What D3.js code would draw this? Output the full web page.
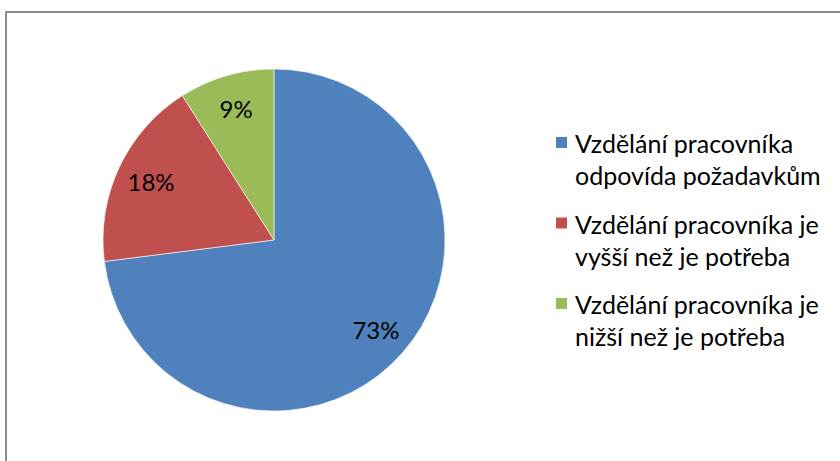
<!DOCTYPE html>
<html>
<head>
<meta charset="utf-8">
<script src="https://cdn.jsdelivr.net/npm/d3@7"></script>
<style>
  body { margin: 0; background: #fff; }
  text { font-family: Lato, "Noto Sans", sans-serif; fill: #000; }
</style>
</head>
<body>
<div id="chart"></div>
<script>
var categories = [
    "Vzdělání pracovníka odpovída požadavkům",
    "Vzdělání pracovníka je vyšší než je potřeba",
    "Vzdělání pracovníka je nižší než je potřeba"
];
var legendLines = [
    ["Vzdělání pracovníka", "odpovída požadavkům"],
    ["Vzdělání pracovníka je", "vyšší než je potřeba"],
    ["Vzdělání pracovníka je", "nižší než je potřeba"]
];
var shares = [73, 18, 9];
var colors = ["#4F81BD", "#C0504D", "#9BBB59"];

var width = 840, height = 461;
var cx = 274, cy = 240, radius = 171;

var svg = d3.select("#chart").append("svg")
    .attr("width", width)
    .attr("height", height);

// chart frame (runs off the right and bottom edge)
svg.append("rect")
    .attr("x", 6).attr("y", 12)
    .attr("width", 900).attr("height", 500)
    .attr("fill", "none")
    .attr("stroke", "#8c8c8c")
    .attr("stroke-width", 2);

var pie = d3.pie().sort(null).value(d => d);
var arcs = pie(shares);

var arc = d3.arc().innerRadius(0).outerRadius(radius);
var labelArc = d3.arc().innerRadius(radius * 0.795).outerRadius(radius * 0.795);

var g = svg.append("g").attr("transform", `translate(${cx},${cy})`);

g.selectAll("path")
    .data(arcs)
    .enter().append("path")
    .attr("d", arc)
    .attr("fill", (d, i) => colors[i])
    .attr("stroke", "#fff")
    .attr("stroke-width", 0.6);

g.selectAll(".lbl")
    .data(arcs)
    .enter().append("text")
    .attr("class", "lbl")
    .attr("x", d => labelArc.centroid(d)[0])
    .attr("y", d => labelArc.centroid(d)[1])
    .attr("dy", "0.36em")
    .attr("text-anchor", "middle")
    .style("font-size", "24px")
    .text(d => d.data + "%");

// legend
var legend = svg.append("g").attr("transform", "translate(556,137)");
var item = legend.selectAll("g")
    .data(categories)
    .enter().append("g")
    .attr("transform", (d, i) => `translate(0,${i * 80.5})`);

item.append("rect")
    .attr("width", 11).attr("height", 11)
    .attr("fill", (d, i) => colors[i]);

item.append("text")
    .attr("x", 19)
    .attr("y", 16)
    .style("font-size", "25px")
    .selectAll("tspan")
    .data((d, i) => legendLines[i])
    .enter().append("tspan")
    .attr("x", 19)
    .attr("dy", (d, j) => j === 0 ? 0 : 32)
    .text(d => d);
</script>
</body>
</html>
